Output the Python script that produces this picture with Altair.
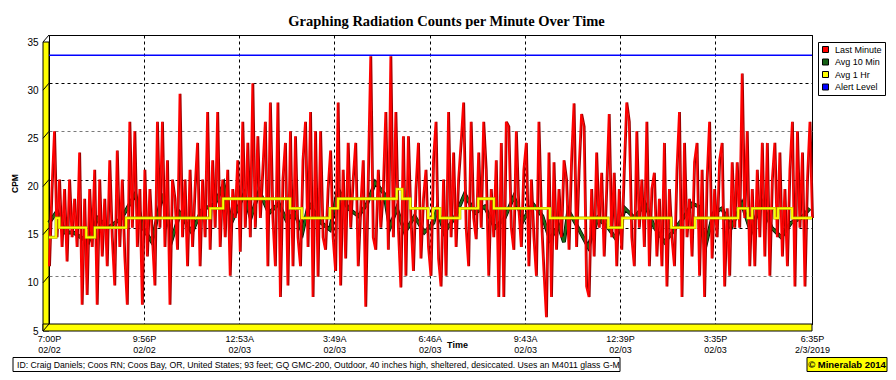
import altair as alt
import pandas as pd

TITLE = "Graphing Radiation Counts per Minute Over Time"
FOOTNOTE = ("ID: Craig Daniels; Coos RN; Coos Bay, OR, United States; 93 feet; GQ GMC-200, "
            "Outdoor, 40 inches high, sheltered, desiccated. Uses an M4011 glass G-M")
CREDIT = "© Mineralab 2014"

total_minutes = 1415
tick_minutes = [0, 176, 353, 529, 706, 883, 1059, 1235, 1415]
tick_time = ["7:00P", "9:56P", "12:53A", "3:49A", "6:46A", "9:43A", "12:39P", "3:35P", "6:35P"]
tick_date = ["02/02", "02/02", "02/03", "02/03", "02/03", "02/03", "02/03", "02/03", "2/3/2019"]
y_ticks = [5, 10, 15, 20, 25, 30, 35]

# Last Minute counts (read left to right, evenly spaced over the period)
red_cpm = [
    11, 19, 25, 14, 20, 13, 19, 11.5, 20, 14, 18, 13, 22.8, 7, 18, 8, 19, 13, 21, 7,
    20, 12, 18, 11, 22, 14, 9, 23, 13, 20, 12, 7, 26, 15, 25, 13, 19, 7, 21, 12,
    19, 14, 9, 26, 15, 26, 13, 22, 7, 20,
    18, 12.7, 28.9, 14, 20, 11, 21, 13, 19, 23.8, 11, 20, 14, 27, 12.7, 22, 15, 27, 13, 20,
    14, 21, 10, 19, 16, 22, 12.5, 26, 15, 23.8, 14, 30, 15, 24.5, 16, 21, 26, 11, 28, 16,
    11, 28, 7.8, 20, 23.8, 9, 25, 11, 24.5, 14, 11, 22,
    26, 13, 27, 7.8, 25, 9.9, 25, 14, 12.7, 19, 23, 14, 10.5, 28, 9, 21, 11.8, 23.8, 15, 20,
    23.8, 11, 17, 22, 6.8, 20, 32.8, 14, 12.7, 21, 15, 19, 27, 12.7, 32.8, 14, 27, 15, 8.8, 24.5,
    10, 24.5, 16, 10.5, 19, 23.8, 11.8, 18, 21, 13, 10, 22,
    26, 11.8, 8.9, 20, 10, 27, 14, 22.8, 13, 20, 23.8, 28, 15, 11, 26, 16, 13.8, 22.8, 15, 26,
    21, 10, 19, 14, 22, 7.8, 23.8, 7.8, 26, 25.5, 15, 12.7, 25, 17, 13, 21, 23.8, 11, 20, 14,
    10, 26, 16, 10.5, 5.7, 22.8, 7.8, 21.8, 12.7, 19, 14, 22,
    20, 12.7, 22, 27.9, 13, 21, 26.8, 25.5, 8.9, 7.8, 19, 12, 22.8, 15, 20.7, 12, 19, 26.8, 14, 20.7,
    11, 19, 12.7, 21, 28, 26, 14, 11, 25, 15, 20, 13, 26, 11, 19, 20.7, 12, 18, 11, 23.8,
    8.9, 19, 14, 11, 21, 27, 7.8, 23.8, 14, 18, 12, 21.8,
    23.8, 10, 21, 7.8, 20, 26, 11.8, 19, 14, 22, 23.8, 8.9, 17, 10, 21.8, 15, 21.8, 15, 31, 16,
    25, 11, 19, 11, 21, 14, 23.8, 12, 23.8, 10, 20, 23.8, 14, 22.8, 12, 19, 11, 21, 26, 8.9,
    25, 15, 22.8, 8.9, 20, 26, 16,
]

# Avg 10 Min
green_minute = [0, 15, 30, 45, 73, 90, 110, 135, 160, 174, 191, 210, 228, 243, 265, 283, 308, 324,
                338, 362, 374, 390, 408, 426, 440, 456, 470, 482, 505, 521, 536, 555, 574, 590,
                605, 622, 632, 645, 660, 678, 696, 713, 720, 733, 752, 771, 790, 808, 827, 845,
                862, 880, 897, 915, 929, 945, 955, 963, 981, 1000, 1018, 1037, 1052, 1068, 1086,
                1105, 1123, 1142, 1160, 1180, 1193, 1205, 1217, 1232, 1248, 1265, 1285, 1302,
                1321, 1340, 1358, 1376, 1395, 1411]
green_cpm = [15.5, 16.7, 14.5, 14.5, 13.5, 16, 15, 16, 18.5, 15, 13.5, 18.5, 13.8, 16.5, 14.5,
             16.8, 17.5, 19.5, 15.5, 18.5, 16.0, 18.8, 16.5, 17.5, 15.8, 16.5, 14.5, 17.5, 15.5,
             14.8, 19.0, 17, 16.2, 17.5, 19.7, 18.5, 15.0, 17.0, 14.5, 16.2, 14.5, 15.5, 17.0,
             14.5, 16.0, 18.5, 16.5, 17.2, 15.0, 16.0, 18.2, 15.8, 17.5, 16.2, 13.8, 15.2, 13.5,
             16.8, 15.0, 13.0, 16.0, 15.0, 13.8, 17.0, 16.0, 17.5, 15.0, 13.5, 14.8, 16.3, 17.5,
             17.2, 13.0, 16.5, 17.0, 15.0, 17.5, 14.5, 17.8, 15.0, 14.0, 15.5, 16.0, 17.0]

# Avg 1 Hr (step changes)
yellow_minute = [0, 13, 19, 69, 85, 143, 299, 323, 447, 469, 521, 536, 645, 655, 670, 703, 712,
                 725, 762, 796, 825, 929, 1037, 1063, 1154, 1198, 1278, 1296, 1304, 1346, 1352,
                 1378, 1415]
yellow_cpm = [14, 16, 15, 14, 15, 16, 17, 18, 17, 16, 17, 18, 19, 18, 17, 16, 17, 16, 17, 18,
              17, 16, 15, 16, 15, 16, 17, 16, 17, 16, 17, 16, 16]

alert_level = 32.9

legend_labels = ["Last Minute", "Avg 10 Min", "Avg 1 Hr", "Alert Level"]
legend_colors = ["#FF0000", "#136013", "#FFFF00", "#0000FF"]

# ---------------------------------------------------------------------------
n = len(red_cpm)
red_df = pd.DataFrame({"minute": [i * total_minutes / (n - 1) for i in range(n)], "cpm": red_cpm})
green_df = pd.DataFrame({"minute": green_minute, "cpm": green_cpm})
yellow_df = pd.DataFrame({"minute": yellow_minute, "cpm": yellow_cpm})
alert_df = pd.DataFrame({"cpm": [alert_level]})
ytick_df = pd.DataFrame({"v": y_ticks})
legend_df = pd.DataFrame({"series": legend_labels})
one = pd.DataFrame({"foot": [FOOTNOTE], "credit": [CREDIT], "title": [TITLE]})

label_expr = ("[" + ",".join(f"['{t}','{d}']" for t, d in zip(tick_time, tick_date)) + "]"
              "[indexof([" + ",".join(str(m) for m in tick_minutes) + "], datum.value)]")

xs = alt.Scale(domain=[0, total_minutes], nice=False, zero=False)
ys = alt.Scale(domain=[5, 35], nice=False, zero=False)

x_axis = alt.Axis(values=tick_minutes, labelExpr=label_expr, grid=True, gridColor="#000000",
                  gridDash=[3, 3], gridWidth=1, ticks=False, domain=False, labelFlush=False,
                  labelOverlap=False, labelBound=False, labelPadding=10, labelFontSize=9,
                  labelLineHeight=11, labelColor="black", title="Time", titleX=408, titleY=20,
                  titleFontSize=9, titleFontWeight="bold", titleBaseline="middle",
                  titleAlign="center", titleColor="black")
y_axis = alt.Axis(values=y_ticks, grid=True,
                  gridColor={"condition": {"test": "datum.value == 25 || datum.value == 10",
                                           "value": "#7a7a7a"}, "value": "#000000"},
                  gridDash=[3, 3], gridWidth=1, ticks=False, domain=False, labelOffset=7,
                  labelPadding=11, labelFontSize=10, labelColor="black", labelFlush=False,
                  title="CPM", titleX=-35, titleY=148, titleAngle=-90, titleFontSize=8.5,
                  titleFontWeight="bold", titleAlign="center", titleBaseline="middle",
                  titleColor="black")

X = alt.X("minute:Q", scale=xs, axis=x_axis)
Y = alt.Y("cpm:Q", scale=ys, axis=y_axis)

left_wall = alt.Chart(one).mark_rect(fill="#FFFF00", stroke="black", strokeWidth=1).encode(
    x=alt.value(-6), x2=alt.value(0), y=alt.value(7), y2=alt.value(296))
floor = alt.Chart(one).mark_rect(fill="#FFFF00", stroke="black", strokeWidth=1).encode(
    x=alt.value(-6), x2=alt.value(763), y=alt.value(289), y2=alt.value(296))
wall_ticks = alt.Chart(ytick_df).mark_rule(color="black", strokeWidth=1, yOffset=7, y2Offset=0).encode(
    x=alt.value(-6), x2=alt.value(0), y=alt.Y("v:Q", scale=ys, axis=y_axis), y2="v:Q")

alert = alt.Chart(alert_df).mark_rule(color="#0000FF", strokeWidth=1.6).encode(y=Y)

green_edge = alt.Chart(green_df).mark_line(color="#000000", strokeWidth=3.8).encode(x=X, y=Y)
green = alt.Chart(green_df).mark_line(color="#1A6B1A", strokeWidth=2.4).encode(x=X, y=Y)

red_shadow = alt.Chart(red_df).mark_line(color="#9A0000", strokeWidth=1.5, xOffset=1.2).encode(x=X, y=Y)
red = alt.Chart(red_df).mark_line(color="#FF0000", strokeWidth=1.8).encode(x=X, y=Y)

yellow_edge = alt.Chart(yellow_df).mark_line(color="#A8A800", strokeWidth=2.9,
                                             interpolate="step-after").encode(x=X, y=Y)
yellow = alt.Chart(yellow_df).mark_line(color="#FFFF00", strokeWidth=1.8,
                                        interpolate="step-after").encode(x=X, y=Y)

legend_layer = alt.Chart(legend_df).mark_square(size=36, opacity=1, stroke="black", strokeWidth=1).encode(
    x=alt.value(-1000), y=alt.value(-1000),
    fill=alt.Fill("series:N", scale=alt.Scale(domain=legend_labels, range=legend_colors),
                  legend=alt.Legend(title=None, orient="none", legendX=769, legendY=7,
                                    strokeColor="black", fillColor="white", padding=3,
                                    rowPadding=1.5, labelFontSize=9, labelFont="Liberation Sans",
                                    labelColor="black", symbolType="square", symbolSize=36,
                                    symbolStrokeColor="black", symbolStrokeWidth=1,
                                    labelOffset=5)))

title_text = alt.Chart(one).mark_text(align="center", baseline="middle", fontSize=14.5,
                                      fontWeight="bold", font="Liberation Serif", color="black").encode(
    x=alt.value(397.5), y=alt.value(-13), text="title:N")
foot_box = alt.Chart(one).mark_rect(fill="white", stroke="black", strokeWidth=1).encode(
    x=alt.value(-36), x2=alt.value(571), y=alt.value(322.5), y2=alt.value(336.5))
foot_text = alt.Chart(one).mark_text(align="left", baseline="middle", fontSize=8.7,
                                     font="Liberation Sans", color="black").encode(
    x=alt.value(-32), y=alt.value(329.5), text="foot:N")
credit_box = alt.Chart(one).mark_rect(fill="#FFFF00", stroke="black", strokeWidth=1).encode(
    x=alt.value(758), x2=alt.value(838), y=alt.value(322.5), y2=alt.value(336.5))
credit_text = alt.Chart(one).mark_text(align="center", baseline="middle", fontSize=9.5,
                                       fontWeight="bold", font="Liberation Sans", color="black").encode(
    x=alt.value(798), y=alt.value(329.5), text="credit:N")

chart = alt.layer(
    left_wall, floor, wall_ticks, alert, green_edge, green, red_shadow, red,
    yellow_edge, yellow, legend_layer, title_text, foot_box, foot_text, credit_box, credit_text
).properties(
    width=763, height=289,
    padding={"left": 41, "top": 27, "right": 76, "bottom": 48},
    autosize=alt.AutoSizeParams(type="none"),
).configure(background="white", font="Liberation Sans").configure_view(stroke="black", strokeWidth=1)

chart.save("out.html", embed_options={"renderer": "svg", "actions": False})
